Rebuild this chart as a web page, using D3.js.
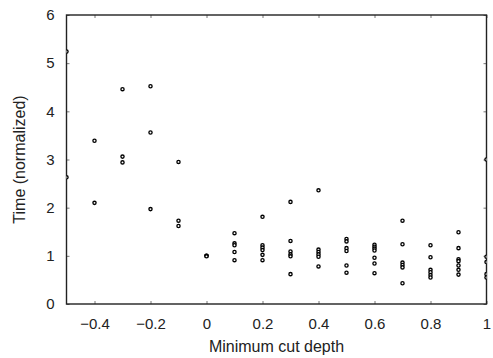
<!DOCTYPE html>
<html>
<head>
<meta charset="utf-8">
<script src="https://cdn.jsdelivr.net/npm/d3@7"></script>
<style>
  body { margin: 0; background: #fff; }
  text { font-family: "Liberation Sans", Arial, sans-serif; fill: #222; }
</style>
</head>
<body>
<div id="grafica"></div>
<script>
// depth values along x
var depths = [-0.5, -0.4, -0.3, -0.2, -0.1, 0, 0.1, 0.2, 0.3, 0.4, 0.5, 0.6, 0.7, 0.8, 0.9, 1.0];
var times = [
  [5.24, 2.63],
  [3.39, 2.10],
  [4.46, 3.06, 2.94],
  [4.52, 3.56, 1.97],
  [2.95, 1.73, 1.62],
  [1.0, 1.0, 0.99],
  [1.47, 1.26, 1.22, 1.08, 0.91],
  [1.81, 1.22, 1.17, 1.12, 1.02, 0.91],
  [2.12, 1.31, 1.09, 1.03, 0.99, 0.62],
  [2.36, 1.13, 1.08, 1.03, 0.98, 0.78],
  [1.35, 1.30, 1.16, 1.10, 0.80, 0.65],
  [1.23, 1.19, 1.15, 1.11, 0.96, 0.84, 0.64],
  [1.73, 1.24, 0.86, 0.81, 0.76, 0.43],
  [1.22, 0.97, 0.71, 0.66, 0.60, 0.55],
  [1.49, 1.16, 0.93, 0.89, 0.80, 0.71, 0.61],
  [3.0, 0.98, 0.87, 0.62, 0.55]
];
var xTicks = [-0.4, -0.2, 0, 0.2, 0.4, 0.6, 0.8, 1];
var yTicks = [0, 1, 2, 3, 4, 5, 6];

var width = 493, height = 358;
var margin = {top: 15, right: 6.5, bottom: 54, left: 66.5};

var svg = d3.select("#grafica").append("svg")
  .attr("width", width)
  .attr("height", height);

var x = d3.scaleLinear().domain([-0.5, 1]).range([margin.left, width - margin.right]);
var y = d3.scaleLinear().domain([0, 6]).range([height - margin.bottom, margin.top]);

// puntos planos
var puntos = [];
depths.forEach(function(d, i) {
  times[i].forEach(function(t) { puntos.push({d: d, t: t}); });
});

svg.append("clipPath").attr("id", "clip")
  .append("rect")
  .attr("x", margin.left).attr("y", margin.top)
  .attr("width", width - margin.left - margin.right)
  .attr("height", height - margin.top - margin.bottom);

// ejes con ticks hacia dentro
function estilo(g) {
  g.select(".domain").remove();
  g.selectAll(".tick line").attr("stroke", "#777").attr("stroke-width", 1);
  g.selectAll(".tick text").style("font-size", "15px").attr("fill", "#222");
}

svg.append("g")
  .attr("transform", "translate(0," + (height - margin.bottom) + ")")
  .call(d3.axisBottom(x).tickValues(xTicks).tickSize(-3).tickPadding(14).tickFormat(d3.format("")))
  .call(estilo);
svg.append("g")
  .attr("transform", "translate(0," + margin.top + ")")
  .call(d3.axisTop(x).tickValues(xTicks).tickSize(-3).tickFormat(""))
  .call(estilo);
svg.append("g")
  .attr("transform", "translate(" + margin.left + ",0)")
  .call(d3.axisLeft(y).tickValues(yTicks).tickSize(-3).tickPadding(12).tickFormat(d3.format("d")))
  .call(estilo);
svg.append("g")
  .attr("transform", "translate(" + (width - margin.right) + ",0)")
  .call(d3.axisRight(y).tickValues(yTicks).tickSize(-3).tickFormat(""))
  .call(estilo);

// marco
svg.append("rect")
  .attr("x", margin.left).attr("y", margin.top)
  .attr("width", width - margin.left - margin.right)
  .attr("height", height - margin.top - margin.bottom)
  .attr("fill", "none")
  .attr("stroke", "#222")
  .attr("stroke-width", 1.4);

svg.append("g")
  .attr("clip-path", "url(#clip)")
  .selectAll("circle")
  .data(puntos)
  .enter().append("circle")
  .attr("cx", function(p) { return x(p.d); })
  .attr("cy", function(p) { return y(p.t); })
  .attr("r", 1.6)
  .attr("fill", "#fff")
  .attr("stroke", "#000")
  .attr("stroke-width", 1.35);

// etiquetas
svg.append("text")
  .attr("x", (margin.left + width - margin.right) / 2)
  .attr("y", 352)
  .attr("text-anchor", "middle")
  .style("font-size", "16px")
  .text("Minimum cut depth");

svg.append("text")
  .attr("transform", "translate(25," + ((margin.top + height - margin.bottom) / 2) + ") rotate(-90)")
  .attr("text-anchor", "middle")
  .style("font-size", "16px")
  .text("Time (normalized)");
</script>
</body>
</html>
